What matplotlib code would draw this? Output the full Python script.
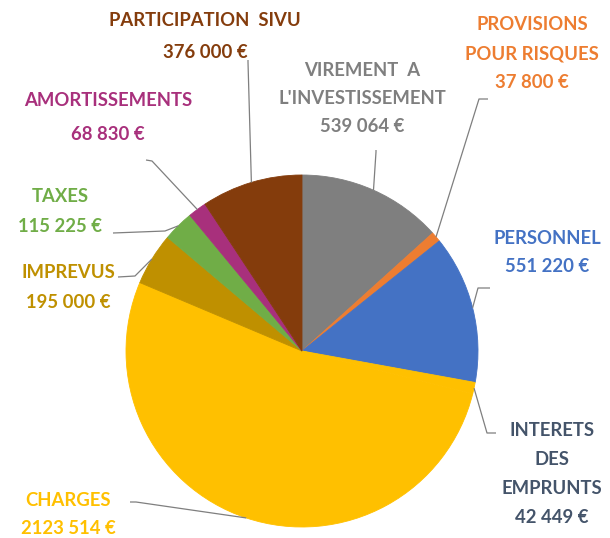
import numpy as np
import matplotlib
matplotlib.use("Agg")
import matplotlib.pyplot as plt

# slices, clockwise from 12 o'clock
names = ["VIREMENT  A\nL'INVESTISSEMENT", "PROVISIONS\nPOUR RISQUES", "PERSONNEL",
         "INTERETS\nDES\nEMPRUNTS", "CHARGES", "IMPREVUS", "TAXES",
         "AMORTISSEMENTS", "PARTICIPATION  SIVU"]
values = [539064, 37800, 551220, 42449, 2123514, 195000, 115225, 68830, 376000]
value_labels = ["539 064 €", "37 800 €", "551 220 €", "42 449 €", "2123 514 €",
                "195 000 €", "115 225 €", "68 830 €", "376 000 €"]
colors = ["#7f7f7f", "#ed7d31", "#4472c4", "#ffc000", "#ffc000",
          "#bf9000", "#70ad47", "#a8307c", "#843c0c"]
text_colors = ["#7f7f7f", "#ed7d31", "#4472c4", "#44546a", "#ffc000",
               "#bf9000", "#70ad47", "#a8307c", "#843c0c"]

# layout in pixels: pie centre, radius
CX, CY, R = 302, 351, 176
W, H = 610, 538

def px(x, y):
    return (x - CX) / R, (CY - y) / R

# label block: centre x, first line y, line step
label_pos = [(362, 70, 28.5), (532, 25, 28.5), (547, 238, 29), (552, 430, 29.3),
             (68, 500, 28), (68, 273, 29), (60, 197, 29), (108, 100, 35), (205, 20, 33)]
# leader line: elbow point, end point near the text
leader = [((376, 152), (376, 150)), ((479, 99), (488, 99)), ((478, 288), (490, 288)),
          ((487, 433), (496, 433)), ((136, 502), (130, 502)), ((135, 276), (118, 277)),
          ((165, 231), (113, 233)), ((152, 161), (146, 160)), ((248, 62), (248, 60))]

plt.rcParams['font.family'] = ['Lato', 'DejaVu Sans']

fig = plt.figure(figsize=(W / 100, H / 100), dpi=100)
ax = fig.add_axes([0, 0, 1, 1])
wedges, _ = ax.pie(values, colors=colors, startangle=90, counterclock=False,
                   radius=1, wedgeprops=dict(linewidth=0.6))
for w in wedges:
    w.set_edgecolor(w.get_facecolor())
ax.set_xlim(px(0, 0)[0], px(W, 0)[0])
ax.set_ylim(px(0, H)[1], px(0, 0)[1])
ax.set_aspect('auto')
ax.axis('off')

for i, w in enumerate(wedges):
    ang = np.radians((w.theta1 + w.theta2) / 2)
    ax_, ay_ = np.cos(ang), np.sin(ang)
    (ex, ey), (tx, ty) = leader[i]
    e = px(ex, ey)
    t = px(tx, ty)
    ax.plot([ax_, e[0], t[0]], [ay_, e[1], t[1]], color="#7f7f7f", lw=0.9,
            solid_capstyle='butt')

    x0, y0, step = label_pos[i]
    lines = names[i].split("\n") + [value_labels[i]]
    for k, line in enumerate(lines):
        p = px(x0, y0 + k * step)
        ax.text(p[0], p[1], line, ha='center', va='center', fontsize=13.3,
                fontweight='bold', color=text_colors[i])

fig.savefig("out.png", dpi=100)
